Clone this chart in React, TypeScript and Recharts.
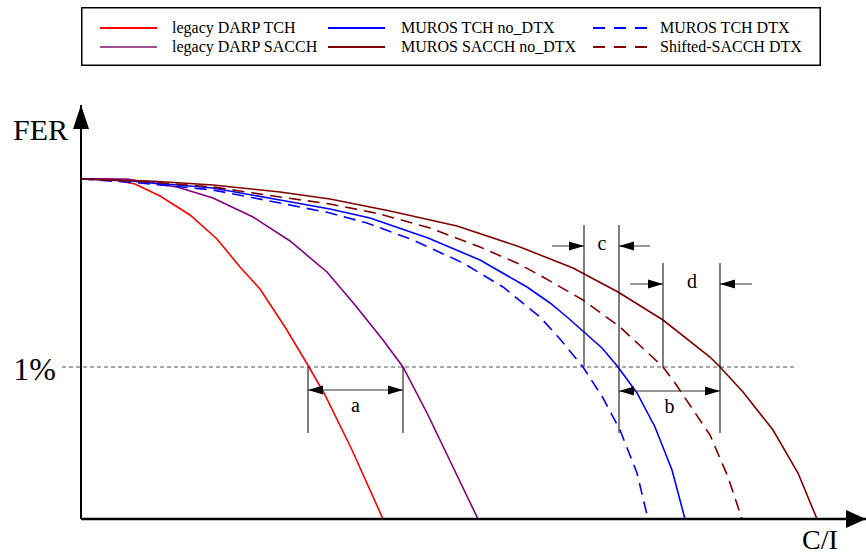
import React from "react";
import { LineChart, Line, XAxis, YAxis, ReferenceLine, Legend } from "recharts";

// x = C/I (arbitrary units), y = FER (arbitrary units, 1% level at 152)
const legacyTch = [
  { x: 0, y: 340 }, { x: 29, y: 340 }, { x: 54, y: 335 }, { x: 79, y: 323 },
  { x: 109, y: 304 }, { x: 136, y: 280 }, { x: 159, y: 252 }, { x: 179, y: 230 },
  { x: 204, y: 192 }, { x: 228, y: 152 }, { x: 244, y: 124 }, { x: 271, y: 69 },
  { x: 302, y: 0 },
];
const legacySacch = [
  { x: 0, y: 340 }, { x: 46, y: 340 }, { x: 96, y: 332 }, { x: 132, y: 321 },
  { x: 172, y: 302 }, { x: 209, y: 278 }, { x: 246, y: 247 }, { x: 274, y: 214 },
  { x: 302, y: 179 }, { x: 322, y: 152 }, { x: 347, y: 104 }, { x: 371, y: 54 },
  { x: 397, y: 0 },
];
const murosTchNoDtx = [
  { x: 0, y: 340 }, { x: 49, y: 338 }, { x: 132, y: 331 }, { x: 199, y: 319 },
  { x: 249, y: 310 }, { x: 289, y: 301 }, { x: 347, y: 281 }, { x: 399, y: 259 },
  { x: 446, y: 232 }, { x: 469, y: 216 }, { x: 486, y: 202 }, { x: 521, y: 171 },
  { x: 537, y: 152 }, { x: 556, y: 126 }, { x: 574, y: 92 }, { x: 591, y: 49 },
  { x: 604, y: 0 },
];
const murosTchDtx = [
  { x: 0, y: 340 }, { x: 59, y: 336 }, { x: 132, y: 329 }, { x: 199, y: 316 },
  { x: 249, y: 306 }, { x: 286, y: 296 }, { x: 332, y: 279 }, { x: 382, y: 256 },
  { x: 422, y: 232 }, { x: 459, y: 202 }, { x: 479, y: 180 }, { x: 502, y: 152 },
  { x: 522, y: 121 }, { x: 539, y: 89 }, { x: 556, y: 46 }, { x: 567, y: 0 },
];
const murosSacchNoDtx = [
  { x: 0, y: 340 }, { x: 69, y: 338 }, { x: 132, y: 334 }, { x: 199, y: 327 },
  { x: 249, y: 320 }, { x: 309, y: 308 }, { x: 376, y: 293 }, { x: 439, y: 272 },
  { x: 492, y: 251 }, { x: 537, y: 227 }, { x: 582, y: 199 }, { x: 629, y: 162 },
  { x: 639, y: 152 }, { x: 662, y: 127 }, { x: 692, y: 89 }, { x: 717, y: 46 },
  { x: 736, y: 0 },
];
const shiftedSacchDtx = [
  { x: 0, y: 340 }, { x: 69, y: 337 }, { x: 132, y: 332 }, { x: 199, y: 322 },
  { x: 249, y: 315 }, { x: 299, y: 305 }, { x: 349, y: 291 }, { x: 399, y: 272 },
  { x: 436, y: 256 }, { x: 462, y: 242 }, { x: 502, y: 219 }, { x: 539, y: 192 },
  { x: 582, y: 152 }, { x: 594, y: 136 }, { x: 629, y: 84 }, { x: 647, y: 42 },
  { x: 661, y: 0 },
];

const SERIES = [
  { name: "legacy DARP TCH", data: legacyTch, color: "#ff0000", dash: undefined },
  { name: "legacy DARP SACCH", data: legacySacch, color: "#800080", dash: undefined },
  { name: "MUROS TCH no_DTX", data: murosTchNoDtx, color: "#0000ff", dash: undefined },
  { name: "MUROS SACCH no_DTX", data: murosSacchNoDtx, color: "#800000", dash: undefined },
  { name: "MUROS TCH DTX", data: murosTchDtx, color: "#0000ff", dash: "12 7" },
  { name: "Shifted-SACCH DTX", data: shiftedSacchDtx, color: "#800000", dash: "12 7" },
];

// legend grid: columns of series names
const legendColumns = [
  ["legacy DARP TCH", "legacy DARP SACCH"],
  ["MUROS TCH no_DTX", "MUROS SACCH no_DTX"],
  ["MUROS TCH DTX", "Shifted-SACCH DTX"],
];

const onePercent = 152;
const FONT = "'Liberation Serif', 'Times New Roman', serif";

function head(tx: number, ty: number, fx: number, fy: number, len: number, hw: number, key: string) {
  const d = Math.hypot(tx - fx, ty - fy) || 1;
  const ux = (tx - fx) / d;
  const uy = (ty - fy) / d;
  const bx = tx - ux * len;
  const by = ty - uy * len;
  const px = -uy * hw;
  const py = ux * hw;
  return (
    <polygon
      key={key}
      points={`${tx},${ty} ${bx + px},${by + py} ${bx - px},${by - py}`}
      fill="#000"
    />
  );
}

type ArrowOpts = {
  start?: boolean;
  end?: boolean;
  len?: number;
  hw?: number;
  stroke?: string;
  width?: number;
  dash?: string;
  text?: string;
  tx?: (p: any) => number;
  ty?: (p: any) => number;
  size?: number;
  anchor?: "start" | "middle" | "end";
};

const arrowShape = (o: ArrowOpts) => (p: any) => {
  const { x1, y1, x2, y2 } = p;
  const len = o.len ?? 15;
  const hw = o.hw ?? 4.5;
  return (
    <g>
      <line
        x1={x1}
        y1={y1}
        x2={x2}
        y2={y2}
        stroke={o.stroke ?? "#000"}
        strokeWidth={o.width ?? 1}
        strokeDasharray={o.dash}
      />
      {o.start ? head(x1, y1, x2, y2, len, hw, "s") : null}
      {o.end ? head(x2, y2, x1, y1, len, hw, "e") : null}
      {o.text ? (
        <text
          x={o.tx ? o.tx(p) : (x1 + x2) / 2}
          y={o.ty ? o.ty(p) : y1}
          fontFamily={FONT}
          fontSize={o.size ?? 20}
          textAnchor={o.anchor ?? "middle"}
          fill="#000"
        >
          {o.text}
        </text>
      ) : null}
    </g>
  );
};

const vline = (x: number, top: number, bottom: number, key: string) => (
  <ReferenceLine
    key={key}
    segment={[{ x, y: bottom }, { x, y: top }]}
    stroke="#000"
    strokeWidth={1}
    ifOverflow="visible"
  />
);

function LegendBox() {
  const colX = [19, 247, 512];
  const textX = [91, 320, 579];
  const rowY = [21, 40];
  return (
    <svg width={740} height={59} style={{ display: "block" }}>
      <rect x={0.75} y={0.75} width={738.5} height={57.5} fill="#fff" stroke="#000" strokeWidth={1.5} />
      {legendColumns.map((col, ci) =>
        col.map((name, ri) => {
          const s = SERIES.find((d) => d.name === name)!;
          return (
            <g key={name}>
              <line
                x1={colX[ci]}
                x2={colX[ci] + 57}
                y1={rowY[ri]}
                y2={rowY[ri]}
                stroke={s.color === "#800080" ? "#a0508c" : s.color}
                strokeWidth={2}
                strokeDasharray={s.dash ? "12 9" : undefined}
              />
              <text x={textX[ci]} y={rowY[ri] + 5} fontFamily={FONT} fontSize={16} fill="#000">
                {name}
              </text>
            </g>
          );
        })
      )}
    </svg>
  );
}

export default function App() {
  return (
    <div style={{ position: "absolute", left: 0, top: 0, width: 866, height: 556, background: "#fff" }}>
      <LineChart width={866} height={556} margin={{ top: 69, right: 0, bottom: 37, left: 81 }}>
        <XAxis type="number" dataKey="x" domain={[0, 785]} hide allowDataOverflow />
        <YAxis type="number" dataKey="y" domain={[0, 450]} hide allowDataOverflow />
        <Legend
          layout="horizontal"
          verticalAlign="middle"
          align="center"
          wrapperStyle={{ top: 7, left: 81, width: 740, height: 59 }}
          content={() => <LegendBox />}
        />

        {/* 1% level */}
        <ReferenceLine
          segment={[{ x: -19, y: onePercent }, { x: 716, y: onePercent }]}
          ifOverflow="visible"
          shape={arrowShape({
            stroke: "#555",
            dash: "4 3",
            text: "1%",
            tx: (p) => p.x1 - 6,
            ty: (p) => p.y1 + 13,
            size: 32,
            anchor: "end",
          })}
        />

        {SERIES.map((s) => (
          <Line
            key={s.name}
            data={s.data}
            dataKey="y"
            name={s.name}
            type="linear"
            stroke={s.color}
            strokeWidth={1.6}
            strokeDasharray={s.dash}
            dot={false}
            activeDot={false}
            isAnimationActive={false}
          />
        ))}

        {/* axes with arrow heads */}
        <ReferenceLine
          segment={[{ x: 0, y: 0 }, { x: 0, y: 414 }]}
          ifOverflow="visible"
          shape={arrowShape({
            end: true,
            len: 24,
            hw: 8,
            width: 2,
            text: "FER",
            tx: (p) => p.x2 - 13,
            ty: (p) => p.y2 + 35,
            size: 30,
            anchor: "end",
          })}
        />
        <ReferenceLine
          segment={[{ x: 0, y: 0 }, { x: 785, y: 0 }]}
          ifOverflow="visible"
          shape={arrowShape({
            end: true,
            len: 20,
            hw: 9,
            width: 2.5,
            text: "C/I",
            tx: (p) => p.x2 - 46,
            ty: (p) => p.y2 + 30,
            size: 28,
          })}
        />

        {/* dimension lines */}
        {vline(227, onePercent, 86, "a1")}
        {vline(322, onePercent, 86, "a2")}
        {vline(503, 294, onePercent, "c1")}
        {vline(538, 294, 86, "c2")}
        {vline(582, 256, onePercent, "d1")}
        {vline(639, 256, 86, "d2")}

        <ReferenceLine
          segment={[{ x: 227, y: 129 }, { x: 322, y: 129 }]}
          ifOverflow="visible"
          shape={arrowShape({ start: true, end: true, stroke: "#333", text: "a", ty: (p) => p.y1 + 22 })}
        />
        <ReferenceLine
          segment={[{ x: 538, y: 128 }, { x: 639, y: 128 }]}
          ifOverflow="visible"
          shape={arrowShape({ start: true, end: true, stroke: "#333", text: "b", ty: (p) => p.y1 + 22 })}
        />
        <ReferenceLine
          segment={[{ x: 471, y: 273 }, { x: 503, y: 273 }]}
          ifOverflow="visible"
          shape={arrowShape({
            end: true,
            stroke: "#333",
            text: "c",
            tx: (p) => p.x2 + 18,
            ty: (p) => p.y2 + 4,
          })}
        />
        <ReferenceLine
          segment={[{ x: 569, y: 273 }, { x: 538, y: 273 }]}
          ifOverflow="visible"
          shape={arrowShape({ end: true, stroke: "#333" })}
        />
        <ReferenceLine
          segment={[{ x: 549, y: 235 }, { x: 582, y: 235 }]}
          ifOverflow="visible"
          shape={arrowShape({
            end: true,
            stroke: "#333",
            text: "d",
            tx: (p) => p.x2 + 29,
            ty: (p) => p.y2 + 4,
          })}
        />
        <ReferenceLine
          segment={[{ x: 671, y: 235 }, { x: 639, y: 235 }]}
          ifOverflow="visible"
          shape={arrowShape({ end: true, stroke: "#333" })}
        />
      </LineChart>
    </div>
  );
}
